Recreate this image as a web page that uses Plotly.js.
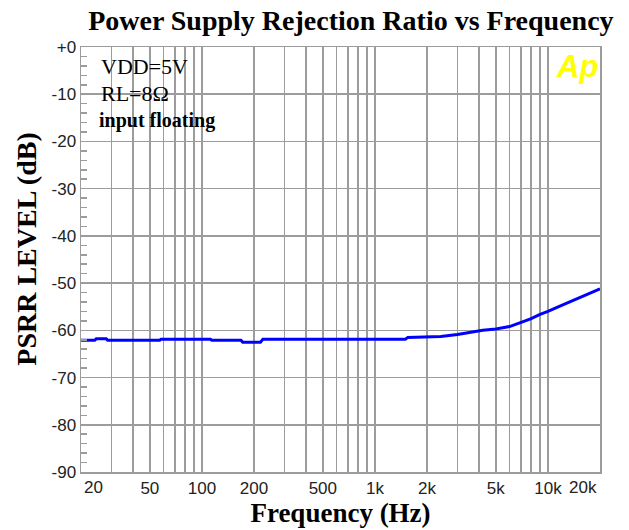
<!DOCTYPE html>
<html>
<head>
<meta charset="utf-8">
<script src="https://cdn.plot.ly/plotly-3.0.1.min.js"></script>
<style>html,body{margin:0;padding:0;background:#fff;}#chart{width:629px;height:530px;}</style>
</head>
<body>
<div id="chart"></div>
<script>
// Frequency (Hz) and PSRR level (dB)
var freqHz = [20, 24, 24.5, 28, 28.5, 57, 58, 112, 114, 168, 172, 218, 225, 1500, 1550, 2400, 3000, 3600, 4200, 5000, 6000, 7000, 8000, 9000, 10000, 12000, 15000, 17500, 20000];
var psrrDb = [-62.1, -62.1, -61.8, -61.8, -62.1, -62.1, -61.9, -61.9, -62.1, -62.1, -62.5, -62.5, -61.9, -61.9, -61.5, -61.3, -60.9, -60.4, -60.0, -59.7, -59.2, -58.3, -57.5, -56.6, -56.0, -54.7, -53.2, -52.2, -51.2];

// x grid positions and labels
var xGridVals = [30, 40, 50, 60, 70, 80, 90, 100, 200, 300, 400, 500, 600, 700, 800, 900, 1000, 2000, 3000, 4000, 5000, 6000, 7000, 8000, 9000, 10000];
var xGridText = ["", "", "50", "", "", "", "", "100", "200", "", "", "500", "", "", "", "", "1k", "2k", "", "", "5k", "", "", "", "", "10k"];
var xEdgeVals = [20, 20000];
var xEdgeText = ["20", "20k"];

// y ticks
var yTickVals = [0, -10, -20, -30, -40, -50, -60, -70, -80, -90];
var yTickText = ["+0", "-10", "-20", "-30", "-40", "-50", "-60", "-70", "-80", "-90"];

var notes = ["VDD=5V", "RL=8Ω", "input floating"];

var gridCol = "#9c9c9c";
var serif = "Liberation Serif, Times New Roman, serif";
var sans = "Liberation Sans, Arial, sans-serif";

var trace = {
  x: freqHz, y: psrrDb, type: "scatter", mode: "lines",
  line: {color: "#0000ff", width: 3}, hoverinfo: "skip"
};

var annotations = [
  {xref: "x", yref: "paper", x: Math.log10(xEdgeVals[0]), y: 0, xanchor: "left", yanchor: "top", yshift: -4, xshift: 1,
   text: xEdgeText[0], showarrow: false, font: {family: sans, size: 17, color: "#222"}},
  {xref: "x", yref: "paper", x: Math.log10(xEdgeVals[1]), y: 0, xanchor: "right", yanchor: "top", yshift: -4, xshift: -1,
   text: xEdgeText[1], showarrow: false, font: {family: sans, size: 17, color: "#222"}},
  {xref: "paper", yref: "paper", x: 0.034, y: 0.954, xanchor: "left", yanchor: "middle",
   text: notes[0], showarrow: false, font: {family: serif, size: 22, color: "#000"}},
  {xref: "paper", yref: "paper", x: 0.034, y: 0.891, xanchor: "left", yanchor: "middle",
   text: notes[1], showarrow: false, font: {family: serif, size: 22, color: "#000"}},
  {xref: "paper", yref: "paper", x: 0.030, y: 0.826, xanchor: "left", yanchor: "middle",
   text: "<b>" + notes[2] + "</b>", showarrow: false, font: {family: serif, size: 20, color: "#000"}},
  {xref: "paper", yref: "paper", x: 1.0, y: 1.0, xanchor: "right", yanchor: "top",
   text: "<b><i>Ap</i></b>", showarrow: false, font: {family: sans, size: 31, color: "#ffff00"}}
];

var layout = {
  width: 629, height: 530,
  margin: {l: 81, r: 29, t: 47, b: 58, pad: 0},
  paper_bgcolor: "#fff", plot_bgcolor: "#fff",
  showlegend: false,
  title: {text: "<b>Power Supply Rejection Ratio vs Frequency</b>", font: {family: serif, size: 28, color: "#000"},
          xref: "paper", x: 0.52, xanchor: "center", y: 0.962, yanchor: "middle"},
  xaxis: {
    type: "log", range: [Math.log10(20), Math.log10(20000)],
    tickvals: xGridVals, ticktext: xGridText, ticks: "",
    tickfont: {family: sans, size: 17, color: "#222"},
    showgrid: true, gridcolor: gridCol, gridwidth: 1.5,
    showline: true, linecolor: gridCol, linewidth: 1.5, mirror: true,
    zeroline: false, fixedrange: true,
    title: {text: "<b>Frequency (Hz)</b>", font: {family: serif, size: 27, color: "#000"}, standoff: 0}
  },
  yaxis: {
    range: [-90, 0], tickvals: yTickVals, ticktext: yTickText,
    ticks: "inside", ticklen: 6, tickcolor: gridCol, tickwidth: 1.5,
    tickfont: {family: sans, size: 17, color: "#222"},
    minor: {dtick: 2, ticks: "inside", ticklen: 6, tickcolor: gridCol, tickwidth: 1.5, showgrid: false},
    showgrid: true, gridcolor: gridCol, gridwidth: 1.5,
    showline: true, linecolor: gridCol, linewidth: 1.5, mirror: true,
    zeroline: false, fixedrange: true,
    title: {text: "&nbsp;&nbsp;&nbsp;<b>PSRR LEVEL (dB)</b>", font: {family: serif, size: 28, color: "#000"}, standoff: 6}
  },
  shapes: [
    {type: "rect", xref: "paper", yref: "paper", x0: 0.0116, x1: 0.282, y0: 0.788, y1: 0.9906,
     fillcolor: "#fff", line: {width: 0}, layer: "between"}
  ],
  annotations: annotations
};

Plotly.newPlot("chart", [trace], layout, {displayModeBar: false, staticPlot: true});
</script>
</body>
</html>
